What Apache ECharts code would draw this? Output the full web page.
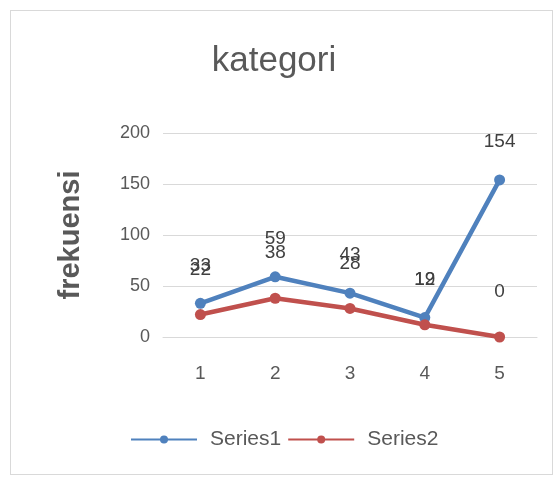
<!DOCTYPE html>
<html><head><meta charset="utf-8">
<script src="https://cdn.jsdelivr.net/npm/echarts@6/dist/echarts.min.js"></script>
<style>html,body{margin:0;padding:0;background:#fff}#c{width:559px;height:484px}
#frame{position:absolute;left:10px;top:10px;width:543px;height:465px;border:1px solid #d9d9d9;box-sizing:border-box;pointer-events:none}</style>
</head><body><div id="c"></div><div id="frame"></div>
<script>
const categories = ['1','2','3','4','5'];
const series1 = [33, 59, 43, 19, 154];
const series2 = [22, 38, 28, 12, 0];
const yTicks = [0, 50, 100, 150, 200];

const chart = echarts.init(document.getElementById('c'));
const font = 'Liberation Sans, Arial';
function lbl(d){ return {show:true, position:'top', distance:d, color:'#404040', fontSize:19, fontFamily:font}; }
chart.setOption({
  animation:false,
  title:{text:'kategori', left:269, textAlign:'center', top:39, textStyle:{fontSize:35, fontWeight:'normal', color:'#595959', fontFamily:font}},
  grid:{left:163, right:22, top:133, bottom:147},
  legend:{top:424, left:125, itemWidth:66, itemHeight:10, itemGap:6,
    textStyle:{fontSize:21, color:'#595959', fontFamily:font, padding:[0,0,0,8]},
    data:['Series1','Series2']},
  xAxis:{type:'category', data:categories, boundaryGap:true,
    axisLine:{show:true, lineStyle:{color:'#d9d9d9', width:1}}, axisTick:{show:false},
    axisLabel:{color:'#595959', fontSize:19, margin:27, fontFamily:font}},
  yAxis:{type:'value', min:yTicks[0], max:yTicks[yTicks.length-1], interval:50,
    name:'frekuensi', nameLocation:'middle', nameGap:78, nameTextStyle:{fontSize:29, fontWeight:'bold', color:'#595959', fontFamily:font},
    axisLine:{show:false}, axisTick:{show:false},
    splitLine:{lineStyle:{color:'#d9d9d9', width:1}},
    axisLabel:{color:'#595959', fontSize:18, margin:13, fontFamily:font}},
  series:[
    {name:'Series1', type:'line', data:series1, symbol:'circle', symbolSize:11,
      lineStyle:{width:4.5, color:'#4f81bd'}, itemStyle:{color:'#4f81bd'}, label:lbl(23)},
    {name:'Series2', type:'line', data:series2, symbol:'circle', symbolSize:11,
      lineStyle:{width:4.5, color:'#c0504d'}, itemStyle:{color:'#c0504d'}, label:lbl(30)}
  ]
});
</script></body></html>
